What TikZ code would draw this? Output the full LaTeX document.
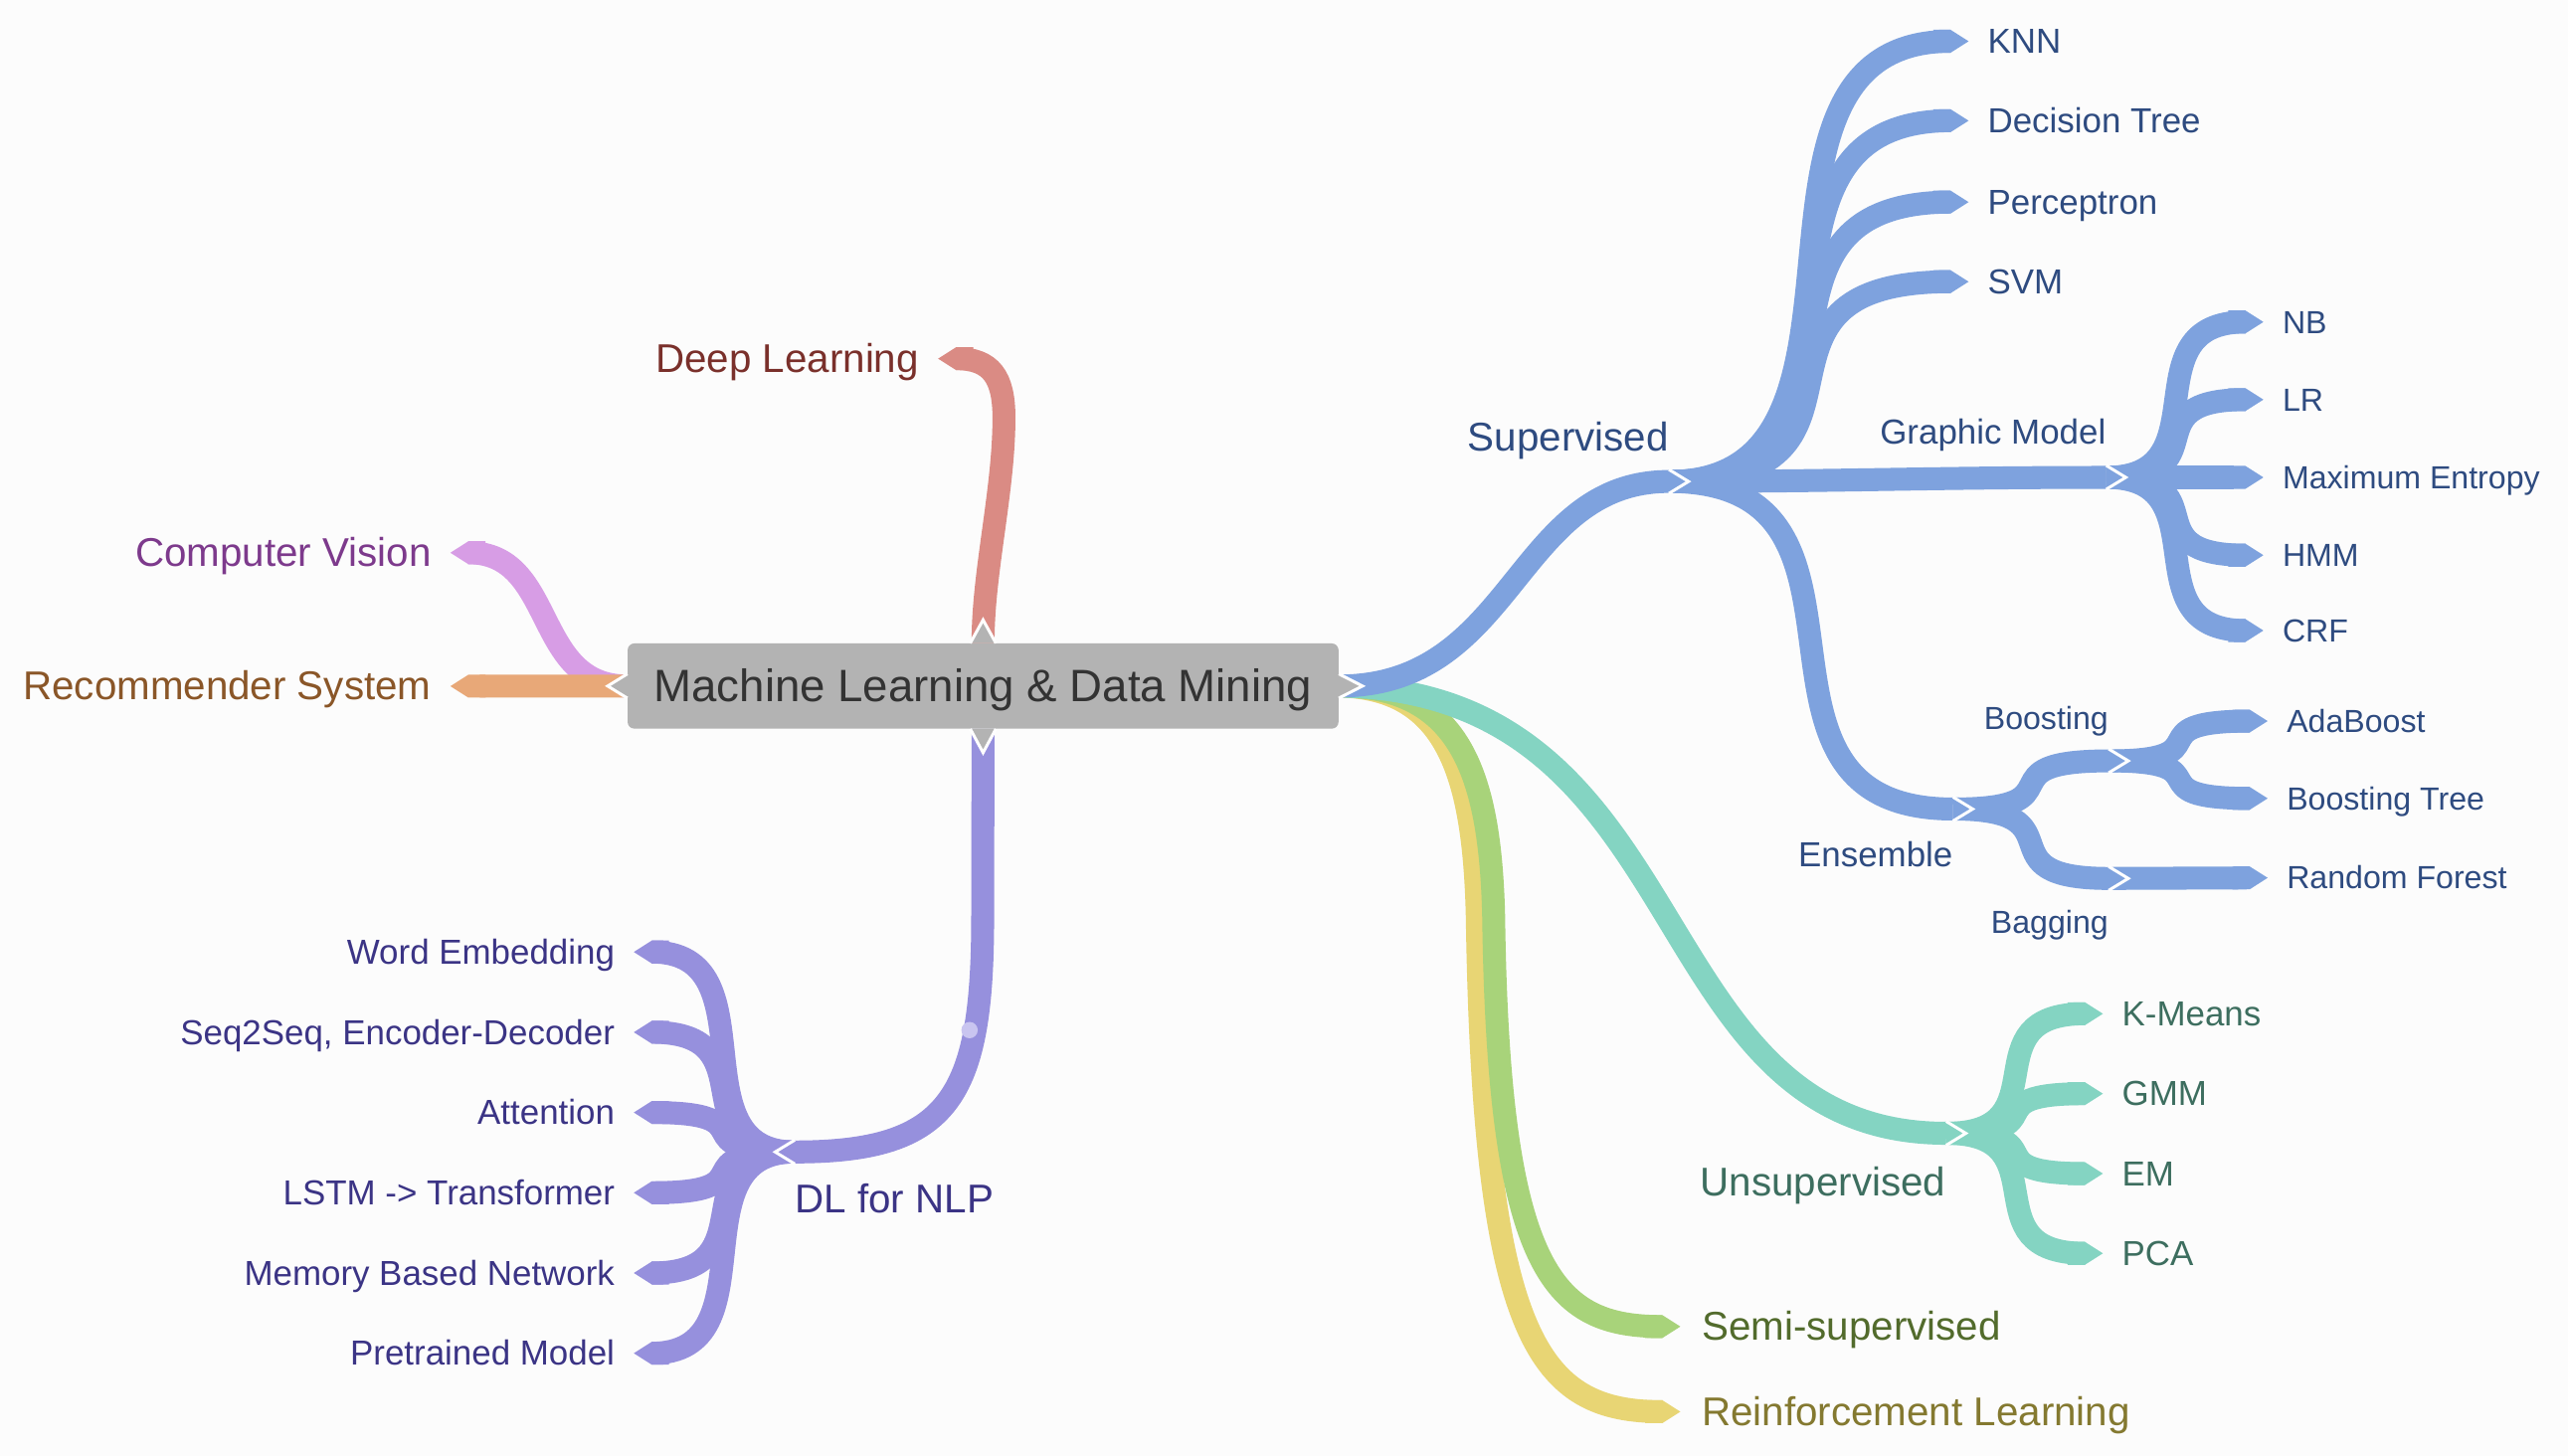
\documentclass[tikz,border=0pt]{standalone}
\usepackage{fontspec}
\setmainfont{Liberation Sans}
\usepackage{tikz}
\usetikzlibrary{arrows.meta, positioning}
\definecolor{bgcol}{HTML}{FCFCFC}
\definecolor{rootcol}{HTML}{B3B3B3}
\definecolor{roottext}{HTML}{333333}
\definecolor{dlcol}{HTML}{DA8B84}
\definecolor{dltext}{HTML}{7A302B}
\definecolor{cvcol}{HTML}{D79DE5}
\definecolor{cvtext}{HTML}{7D3A8C}
\definecolor{rscol}{HTML}{E8A878}
\definecolor{rstext}{HTML}{8A5628}
\definecolor{nlpcol}{HTML}{9690DD}
\definecolor{nlpdot}{HTML}{C9C5F0}
\definecolor{nlptext}{HTML}{3B3485}
\definecolor{supcol}{HTML}{7EA2DE}
\definecolor{suptext}{HTML}{2E4B80}
\definecolor{unscol}{HTML}{84D4C2}
\definecolor{unstext}{HTML}{3D6E5F}
\definecolor{semicol}{HTML}{A8D37A}
\definecolor{semitext}{HTML}{526B2C}
\definecolor{rlcol}{HTML}{E8D574}
\definecolor{rltext}{HTML}{847930}
\pgfdeclarelayer{links}
\pgfsetlayers{links,main}
\tikzstyle{rootbox} = [rectangle, rounded corners=4pt, minimum width=434pt, minimum height=52pt, inner sep=0pt, text height=19.5pt, text depth=0pt, fill=rootcol, text=roottext, font=\fontsize{27.7}{32}\selectfont]
\tikzstyle{lone} = [inner sep=0pt, text height=17pt, text depth=0pt, font=\fontsize{24.5}{28}\selectfont]
\tikzstyle{ltwo} = [inner sep=0pt, text height=14.8pt, text depth=0pt, font=\fontsize{21.2}{25}\selectfont]
\tikzstyle{lthree} = [inner sep=0pt, text height=13.7pt, text depth=0pt, font=\fontsize{19.5}{23}\selectfont]
\tikzstyle{branch} = [line width=14pt]
\tikzstyle{leaf} = [line width=14pt, -{Triangle Cap[length=11pt]}]
\tikzstyle{cut} = [draw=white, line width=1.8pt, line join=miter]

\begin{document}
\begin{tikzpicture}[x=1pt, y=-1pt, node distance=11.5pt]
    \useasboundingbox (0,0) rectangle (1568,889);
    \node (root) [rootbox] at (600.25,418.9) {Machine Learning \& Data Mining};

    \coordinate (sup) at (1019,294);
    \coordinate (gm) at (1286,291.5);
    \coordinate (ens) at (1192.5,494);
    \coordinate (boost) at (1287.5,464.6);
    \coordinate (bag) at (1287.5,536.4);
    \coordinate (uns) at (1188.3,692);
    \coordinate (nlp) at (485.3,703.4);

    \coordinate (knnend) at (1202,25.2);
    \coordinate (dtreeend) at (1202,73.7);
    \coordinate (percend) at (1202,123.4);
    \coordinate (svmend) at (1202,172);
    \coordinate (nbend) at (1382,196.6);
    \coordinate (lrend) at (1382,244);
    \coordinate (maxentend) at (1382,291.5);
    \coordinate (hmmend) at (1382,339);
    \coordinate (crfend) at (1382,385);
    \coordinate (adaend) at (1384.6,440.3);
    \coordinate (btreeend) at (1384.6,487.5);
    \coordinate (rfend) at (1384.6,536);
    \coordinate (kmeansend) at (1284,619);
    \coordinate (gmmend) at (1284,667.8);
    \coordinate (emend) at (1284,716.6);
    \coordinate (pcaend) at (1284,765.3);
    \coordinate (semiend) at (1026,810);
    \coordinate (rlend) at (1026,862);
    \coordinate (dlend) at (572.8,219);
    \coordinate (cvend) at (275,337.5);
    \coordinate (rsend) at (275,419);
    \coordinate (weend) at (387,581.3);
    \coordinate (seqend) at (387,630.3);
    \coordinate (attend) at (387,679.3);
    \coordinate (lstmend) at (387,728.3);
    \coordinate (memend) at (387,777.3);
    \coordinate (preend) at (387,826.3);

    \begin{pgfonlayer}{links}
    \fill [bgcol] (0,0) rectangle (1568,889);

    \draw [leaf, rlcol] (root.east) .. controls (882,420) and (900,470) .. (902,560) .. controls (906,820) and (940,862) .. ([xshift=-11pt]rlend) -- (rlend);
    \draw [leaf, semicol] (root.east) .. controls (890,419) and (910,470) .. (912,560) .. controls (915,780) and (950,810) .. ([xshift=-11pt]semiend) -- (semiend);
    \draw [branch, unscol] (root.east) .. controls (1040,422) and (1000,692) .. (uns);
    \draw [leaf, unscol] (uns) to[out=0, in=180, distance=72pt] ([xshift=-11pt]kmeansend) -- (kmeansend);
    \draw [leaf, unscol] (uns) to[out=0, in=180, distance=72pt] ([xshift=-11pt]gmmend) -- (gmmend);
    \draw [leaf, unscol] (uns) to[out=0, in=180, distance=72pt] ([xshift=-11pt]emend) -- (emend);
    \draw [leaf, unscol] (uns) to[out=0, in=180, distance=72pt] ([xshift=-11pt]pcaend) -- (pcaend);

    \draw [branch, supcol] (root.east) .. controls (925,419) and (925,294) .. (sup);
    \draw [leaf, supcol] (sup) to[out=0, in=180, distance=146pt] ([xshift=-11pt]knnend) -- (knnend);
    \draw [leaf, supcol] (sup) to[out=0, in=180, distance=146pt] ([xshift=-11pt]dtreeend) -- (dtreeend);
    \draw [leaf, supcol] (sup) to[out=0, in=180, distance=146pt] ([xshift=-11pt]percend) -- (percend);
    \draw [leaf, supcol] (sup) to[out=0, in=180, distance=146pt] ([xshift=-11pt]svmend) -- (svmend);
    \draw [branch, supcol] (sup) to[out=0, in=180] (gm);
    \draw [branch, supcol] (sup) to[out=0, in=180, distance=147pt] (ens);
    \draw [leaf, supcol] (gm) to[out=0, in=180, distance=72pt] ([xshift=-11pt]nbend) -- (nbend);
    \draw [leaf, supcol] (gm) to[out=0, in=180, distance=72pt] ([xshift=-11pt]lrend) -- (lrend);
    \draw [leaf, supcol] (gm) -- (maxentend);
    \draw [leaf, supcol] (gm) to[out=0, in=180, distance=72pt] ([xshift=-11pt]hmmend) -- (hmmend);
    \draw [leaf, supcol] (gm) to[out=0, in=180, distance=72pt] ([xshift=-11pt]crfend) -- (crfend);
    \draw [branch, supcol] (ens) to[out=0, in=180, distance=80pt] (boost);
    \draw [branch, supcol] (ens) to[out=0, in=180, distance=80pt] (bag);
    \draw [leaf, supcol] (boost) to[out=0, in=180, distance=73pt] ([xshift=-11pt]adaend) -- (adaend);
    \draw [leaf, supcol] (boost) to[out=0, in=180, distance=73pt] ([xshift=-11pt]btreeend) -- (btreeend);
    \draw [leaf, supcol] (bag) -- (rfend);

    \draw [leaf, cvcol] (root.west) .. controls (325,419) and (340,337.5) .. ([xshift=11pt]cvend) -- (cvend);
    \draw [leaf, rscol] (root.west) -- (rsend);
    \draw [leaf, dlcol] (root.north) .. controls (600,350) and (613,300) .. (613,255) .. controls (613,230) and (605,219) .. ([xshift=11pt]dlend) -- (dlend);

    \draw [leaf, nlpcol] (nlp) to[out=180, in=0, distance=74pt] ([xshift=11pt]weend) -- (weend);
    \draw [leaf, nlpcol] (nlp) to[out=180, in=0, distance=74pt] ([xshift=11pt]seqend) -- (seqend);
    \draw [leaf, nlpcol] (nlp) to[out=180, in=0, distance=74pt] ([xshift=11pt]attend) -- (attend);
    \draw [leaf, nlpcol] (nlp) to[out=180, in=0, distance=74pt] ([xshift=11pt]lstmend) -- (lstmend);
    \draw [leaf, nlpcol] (nlp) to[out=180, in=0, distance=74pt] ([xshift=11pt]memend) -- (memend);
    \draw [leaf, nlpcol] (nlp) to[out=180, in=0, distance=74pt] ([xshift=11pt]preend) -- (preend);
    \draw [branch, nlpcol] (root.south) -- (600,560) .. controls (600,670) and (580,703.4) .. (nlp);
    \fill [nlpdot] (592,629) circle (5pt);

    \draw [cut] ([yshift=7.3pt]sup) -- ([xshift=12pt]sup) -- ([yshift=-7.3pt]sup);
    \draw [cut] ([yshift=7.3pt]gm) -- ([xshift=12pt]gm) -- ([yshift=-7.3pt]gm);
    \draw [cut] ([yshift=7.3pt]ens) -- ([xshift=12pt]ens) -- ([yshift=-7.3pt]ens);
    \draw [cut] ([yshift=7.3pt]boost) -- ([xshift=12pt]boost) -- ([yshift=-7.3pt]boost);
    \draw [cut] ([yshift=7.3pt]bag) -- ([xshift=12pt]bag) -- ([yshift=-7.3pt]bag);
    \draw [cut] ([yshift=7.3pt]uns) -- ([xshift=12pt]uns) -- ([yshift=-7.3pt]uns);
    \draw [cut] ([yshift=7.3pt]nlp) -- ([xshift=-12pt]nlp) -- ([yshift=-7.3pt]nlp);
    \end{pgfonlayer}

    \draw [cut, fill=rootcol] ([yshift=7.4pt]root.east) -- ([xshift=14.5pt]root.east) -- ([yshift=-7.4pt]root.east);
    \draw [cut, fill=rootcol] ([yshift=7.4pt]root.west) -- ([xshift=-12pt]root.west) -- ([yshift=-7.4pt]root.west);
    \draw [cut, fill=rootcol] ([xshift=-7.8pt]root.north) -- ([yshift=14.2pt]root.north) -- ([xshift=7.8pt]root.north);
    \draw [cut, fill=rootcol] ([xshift=-7.8pt]root.south) -- ([yshift=-14.5pt]root.south) -- ([xshift=7.8pt]root.south);

    \node (supervised) [lone, text=suptext, left=0pt of sup, yshift=26.8pt] {Supervised};
    \node (unsupervised) [lone, text=unstext, left=0pt of uns, yshift=-30pt] {Unsupervised};
    \node (semi) [lone, text=semitext, right=13pt of semiend] {Semi-supervised};
    \node (rl) [lone, text=rltext, right=13pt of rlend] {Reinforcement Learning};
    \node (deeplearning) [lone, text=dltext, left=of dlend] {Deep Learning};
    \node (vision) [lone, text=cvtext, left=of cvend] {Computer Vision};
    \node (recsys) [lone, text=rstext, left=of rsend] {Recommender System};
    \node (dlnlp) [lone, text=nlptext, right=0pt of nlp, yshift=-28.8pt] {DL for NLP};

    \node (knn) [ltwo, text=suptext, right=of knnend] {KNN};
    \node (dtree) [ltwo, text=suptext, right=of dtreeend] {Decision Tree};
    \node (perc) [ltwo, text=suptext, right=of percend] {Perceptron};
    \node (svm) [ltwo, text=suptext, right=of svmend] {SVM};
    \node (graphic) [ltwo, text=suptext, left=0pt of gm, yshift=27.5pt] {Graphic Model};
    \node (ensemble) [ltwo, text=suptext, left=0pt of ens, yshift=-28pt] {Ensemble};
    \node (nb) [lthree, text=suptext, right=of nbend] {NB};
    \node (lr) [lthree, text=suptext, right=of lrend] {LR};
    \node (maxent) [lthree, text=suptext, right=of maxentend] {Maximum Entropy};
    \node (hmm) [lthree, text=suptext, right=of hmmend] {HMM};
    \node (crf) [lthree, text=suptext, right=of crfend] {CRF};
    \node (boosting) [lthree, text=suptext, left=0pt of boost, yshift=25.8pt] {Boosting};
    \node (bagging) [lthree, text=suptext, left=0pt of bag, yshift=-26.6pt] {Bagging};
    \node (ada) [lthree, text=suptext, right=of adaend] {AdaBoost};
    \node (btree) [lthree, text=suptext, right=of btreeend] {Boosting Tree};
    \node (rf) [lthree, text=suptext, right=of rfend] {Random Forest};
    \node (kmeans) [ltwo, text=unstext, right=of kmeansend] {K-Means};
    \node (gmm) [ltwo, text=unstext, right=of gmmend] {GMM};
    \node (em) [ltwo, text=unstext, right=of emend] {EM};
    \node (pca) [ltwo, text=unstext, right=of pcaend] {PCA};

    \node (wordemb) [ltwo, text=nlptext, left=of weend] {Word Embedding};
    \node (seq) [ltwo, text=nlptext, left=of seqend] {Seq2Seq, Encoder-Decoder};
    \node (attention) [ltwo, text=nlptext, left=of attend] {Attention};
    \node (lstm) [ltwo, text=nlptext, left=of lstmend] {LSTM -> Transformer};
    \node (memory) [ltwo, text=nlptext, left=of memend] {Memory Based Network};
    \node (pretrained) [ltwo, text=nlptext, left=of preend] {Pretrained Model};
\end{tikzpicture}
\end{document}
